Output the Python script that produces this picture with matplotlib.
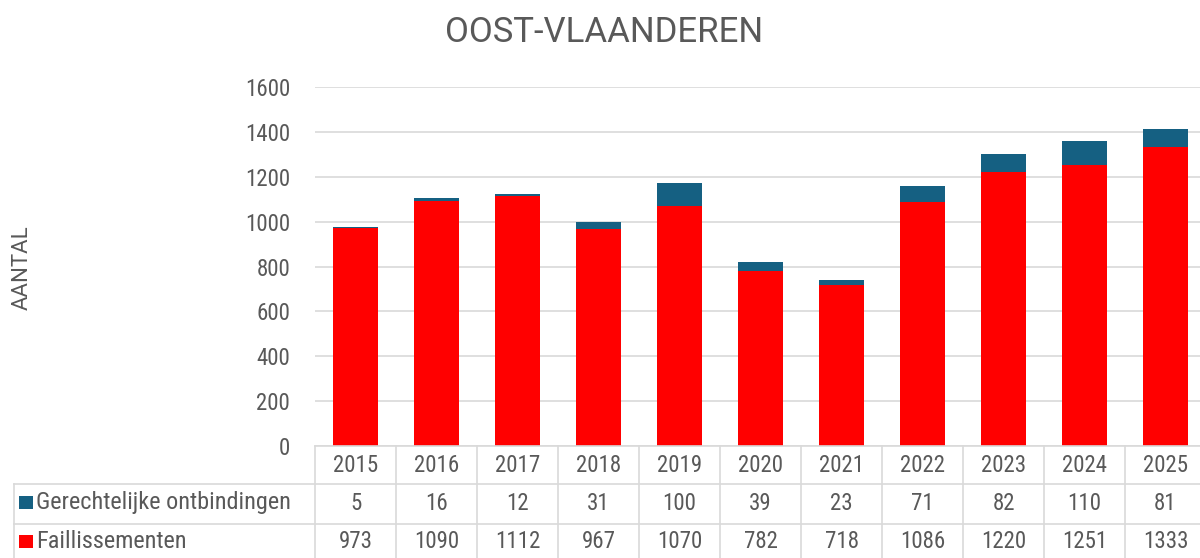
import numpy as np
import matplotlib.pyplot as plt
from matplotlib import font_manager, transforms
from matplotlib.lines import Line2D
from matplotlib.patches import Rectangle

# Data
jaren = ['2015', '2016', '2017', '2018', '2019', '2020', '2021', '2022', '2023', '2024', '2025']
ontbindingen = [5, 16, 12, 31, 100, 39, 23, 71, 82, 110, 81]
faillissementen = [973, 1090, 1112, 967, 1070, 782, 718, 1086, 1220, 1251, 1333]
reeks_namen = ['Gerechtelijke ontbindingen', 'Faillissementen']

ROOD = '#FF0000'
BLAUW = '#156082'
GRIJS = '#595959'
LIJN = '#D9D9D9'

# smalle letter zoals in Excel, als die er is
namen = {f.name for f in font_manager.fontManager.ttflist}
smal = [f for f in ['Roboto Condensed', 'Liberation Sans Narrow'] if f in namen] + ['DejaVu Sans']
gewoon = [f for f in ['Roboto', 'Liberation Sans'] if f in namen] + ['DejaVu Sans']
plt.rcParams['font.family'] = smal

W, H = 1200, 558
def fx(px): return px / W
def fy(py): return 1 - py / H

fig = plt.figure(figsize=(12, 5.58), dpi=100)
ax = fig.add_axes([fx(315), fy(446), 891 / W, (446 - 87) / H])

x = np.arange(len(jaren))
ax.bar(x, faillissementen, 0.55, color=ROOD, zorder=2)
ax.bar(x, ontbindingen, 0.55, bottom=faillissementen, color=BLAUW, zorder=2)

ax.set_xlim(-0.5, len(jaren) - 0.5)
ax.set_ylim(0, 1600)
ax.set_yticks(range(0, 1601, 200))
ax.set_xticks([])
ax.grid(axis='y', color=LIJN, lw=1.2, zorder=0)
for s in ['top', 'right', 'left']:
    ax.spines[s].set_visible(False)
ax.spines['bottom'].set_color(LIJN)
ax.spines['bottom'].set_linewidth(1.2)
ax.tick_params(axis='y', length=0, pad=18, labelsize=16.5, labelcolor=GRIJS)

fig.text(fx(604), fy(33), 'OOST-VLAANDEREN', ha='center', va='center', fontsize=25,
         color=GRIJS, family=gewoon)
fig.text(fx(22), fy(268), 'AANTAL', rotation=90, ha='center', va='center', fontsize=16,
         color=GRIJS, family=gewoon)

# Datatabel onder de grafiek
ts = 16.5
trans = transforms.blended_transform_factory(ax.transData, fig.transFigure)
for i, jr in enumerate(jaren):
    fig.text(i, fy(465), jr, transform=trans, ha='center', va='center', fontsize=ts, color=GRIJS)
    fig.text(i, fy(503), str(ontbindingen[i]), transform=trans, ha='center', va='center', fontsize=ts, color=GRIJS)
    fig.text(i, fy(541), str(faillissementen[i]), transform=trans, ha='center', va='center', fontsize=ts, color=GRIJS)

for b in np.arange(-0.5, len(jaren)):
    fig.add_artist(Line2D([b, b], [fy(446), 0], transform=trans, color=LIJN, lw=1.2))
for py in [484, 524]:
    fig.add_artist(Line2D([fx(14), 1], [fy(py), fy(py)], transform=fig.transFigure, color=LIJN, lw=1.2))
fig.add_artist(Line2D([fx(14), fx(14)], [fy(484), 0], transform=fig.transFigure, color=LIJN, lw=1.2))

for py, kleur, naam in [(502, BLAUW, reeks_namen[0]), (541, ROOD, reeks_namen[1])]:
    fig.add_artist(Rectangle((fx(19), fy(py + 7)), 14 / W, 13 / H, transform=fig.transFigure,
                             facecolor=kleur, edgecolor='none'))
    fig.text(fx(36), fy(py), naam, ha='left', va='center', fontsize=17.5, color=GRIJS)

fig.savefig('out.png', dpi=100)
